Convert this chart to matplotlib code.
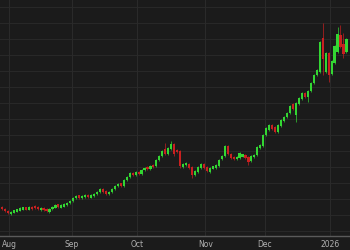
import numpy as np
import pandas as pd
import matplotlib
matplotlib.use("Agg")
import matplotlib.pyplot as plt

# daily candles, Jul 29 2025 - Jan 9 2026 (weekdays, minus Dec 25 / Jan 1)
dates = pd.bdate_range("2025-07-29", "2026-01-09")
dates = dates[~dates.isin(pd.to_datetime(["2025-12-25", "2026-01-01"]))]

opens = [38.0, 37.5, 37.0, 36.25, 36.75, 37.0, 37.25, 37.5, 37.75, 37.5,
         38.0, 38.25, 38.0, 37.25, 37.75, 37.5, 36.75, 37.5, 38.0, 38.5,
         38.0, 38.25, 38.5, 39.0, 39.5, 40.25, 40.75, 40.25, 40.62, 41.0,
         40.5, 40.75, 41.25, 41.75, 42.5, 42.0, 41.25, 41.75, 42.5, 43.25,
         43.75, 43.25, 44.75, 45.5, 46.5, 46.0, 46.75, 46.25, 47.25, 48.0,
         47.5, 48.5, 48.25, 49.75, 50.75, 52.5, 51.25, 52.5, 53.75, 52.25,
         52.0, 48.0, 48.5, 48.75, 48.0, 46.0, 46.75, 47.75, 48.75, 48.0,
         46.75, 47.75, 47.75, 48.25, 50.0, 50.75, 53.25, 51.25, 50.5, 50.0,
         50.25, 50.75, 51.0, 50.5, 49.5, 50.5, 51.0, 52.75, 53.25, 56.0,
         57.25, 58.5, 58.0, 56.75, 58.25, 59.5, 60.5, 61.5, 63.75, 61.0,
         63.75, 65.0, 66.5, 65.5, 67.0, 69.0, 71.0, 71.75, 80.25, 71.75,
         76.5, 71.25, 74.0, 76.75, 81.0, 78.75, 76.75]
closes = [37.5, 37.0, 36.5, 36.75, 37.0, 37.25, 37.62, 37.75, 37.5, 37.88,
          37.5, 37.75, 37.5, 37.75, 37.25, 37.0, 37.5, 38.0, 38.38, 38.12,
          38.38, 38.62, 39.0, 39.5, 40.25, 40.75, 40.38, 40.75, 40.88, 40.5,
          40.88, 41.25, 41.75, 42.5, 41.75, 41.25, 41.75, 42.5, 43.25, 43.75,
          43.38, 44.75, 45.5, 46.38, 46.0, 46.75, 46.25, 47.25, 47.75, 47.5,
          48.25, 48.0, 49.75, 50.75, 52.0, 51.25, 52.75, 53.75, 51.25, 51.75,
          48.25, 48.75, 49.0, 47.75, 46.0, 47.0, 48.0, 48.75, 47.75, 47.0,
          47.75, 48.0, 48.5, 49.75, 50.75, 53.25, 51.25, 50.25, 50.0, 50.5,
          51.5, 51.0, 50.25, 49.25, 50.75, 51.0, 53.0, 53.5, 56.0, 57.75,
          58.5, 57.5, 56.75, 58.5, 59.75, 60.5, 61.5, 63.25, 62.5, 64.0,
          65.25, 66.5, 65.5, 67.0, 69.0, 71.0, 72.25, 79.25, 75.0, 76.5,
          71.0, 74.5, 78.25, 81.25, 78.0, 76.25, 80.0]
highs = [38.35, 37.85, 37.35, 37.1, 37.35, 37.6, 37.97, 38.1, 38.1, 38.23,
         38.35, 38.6, 38.35, 38.1, 38.1, 37.85, 37.85, 38.35, 38.73, 38.85,
         38.73, 38.97, 39.35, 39.85, 40.6, 41.1, 41.1, 41.1, 41.23, 41.35,
         41.23, 41.6, 42.1, 42.85, 42.85, 42.35, 42.1, 42.85, 43.6, 44.1,
         44.1, 45.1, 45.85, 46.73, 46.85, 47.1, 47.1, 47.6, 48.1, 48.35,
         48.6, 48.85, 50.1, 51.1, 52.35, 54.0, 53.1, 54.5, 54.1, 52.6,
         52.35, 49.1, 49.35, 49.1, 48.35, 47.35, 48.35, 49.1, 49.1, 48.35,
         48.1, 48.35, 48.85, 50.1, 51.1, 53.6, 53.6, 51.6, 50.85, 50.85,
         51.85, 51.35, 51.35, 50.85, 51.1, 51.35, 53.35, 53.85, 56.35, 58.1,
         58.85, 58.85, 58.35, 58.85, 60.1, 60.85, 61.85, 63.6, 64.1, 64.35,
         65.6, 66.85, 66.85, 67.35, 69.35, 71.35, 72.6, 79.6, 84.0, 76.85,
         76.85, 74.85, 78.6, 83.0, 83.5, 81.5, 80.35]
lows = [37.15, 36.65, 36.15, 35.9, 36.4, 36.65, 36.9, 37.15, 37.15, 37.15,
        37.15, 37.4, 37.15, 36.9, 36.9, 36.65, 36.4, 37.15, 37.65, 37.77,
        37.65, 37.9, 38.15, 38.65, 39.15, 39.9, 40.03, 39.9, 40.27, 40.15,
        40.15, 40.4, 40.9, 41.4, 41.4, 40.9, 40.9, 41.4, 42.15, 42.9,
        43.03, 42.9, 44.4, 45.15, 45.65, 45.65, 45.9, 45.9, 46.9, 47.15,
        47.15, 47.65, 47.9, 49.4, 50.4, 50.9, 50.9, 52.15, 50.75, 51.4,
        47.75, 47.65, 48.15, 47.4, 45.25, 45.65, 46.4, 47.4, 47.4, 46.65,
        46.4, 47.4, 47.4, 47.9, 49.65, 50.4, 50.9, 49.9, 49.65, 49.65,
        49.9, 50.4, 49.9, 48.5, 49.15, 50.15, 50.65, 52.4, 52.9, 55.65,
        56.9, 57.15, 56.4, 56.4, 57.9, 59.15, 60.15, 61.15, 62.15, 59.25,
        63.4, 64.65, 65.15, 64.25, 66.65, 68.65, 70.65, 71.4, 71.0, 71.4,
        69.25, 70.9, 73.65, 76.4, 77.65, 75.25, 76.4]

grid_levels = np.arange(32, 92, 4)
month_idx = [int(np.argmax((dates.year == y) & (dates.month == m)))
             for y, m in [(2025, 8), (2025, 9), (2025, 10), (2025, 11), (2025, 12), (2026, 1)]]
month_labels = ["Aug", "Sep", "Oct", "Nov", "Dec", "2026"]

df = pd.DataFrame({"open": opens, "high": highs, "low": lows, "close": closes}, index=dates)
x = np.arange(len(df))

bg = "#1b1b1b"
up_col = "#33d633"
down_col = "#c92020"

fig = plt.figure(figsize=(3.5, 2.5), dpi=100, facecolor=bg)
ax = fig.add_axes([0, 14 / 250, 1, 236 / 250], facecolor=bg)

for lvl in grid_levels:
    ax.axhline(lvl, color="#282828", lw=0.8, zorder=0)
for mi in month_idx:
    ax.axvline(mi - 0.5, color="#2a2a2a", lw=0.8, zorder=0)

up = df["close"] >= df["open"]
colors = np.where(up, up_col, down_col)
# thin bodies still show as a short block, as on the reference
mid = (df["open"] + df["close"]) / 2
height = np.maximum((df["close"] - df["open"]).abs(), 0.7)
ax.vlines(x, df["low"], df["high"], colors=colors, lw=0.6, alpha=0.8, zorder=2)
ax.bar(x, height, bottom=mid - height / 2, width=0.72, color=colors, linewidth=0, zorder=3)

ax.set_xlim(-0.67, 117.2)
ax.set_ylim(30.75, 89.75)
ax.set_yticks([])
ax.set_xticks(np.array(month_idx) - 0.5)
ax.set_xticklabels(month_labels, fontsize=5.5, color="#b0b0b0")
ax.tick_params(axis="x", length=0, pad=3)
for s in ["top", "left", "right"]:
    ax.spines[s].set_visible(False)
ax.spines["bottom"].set_color("#5a5a5a")
ax.spines["bottom"].set_linewidth(1.0)

fig.savefig("out.png", dpi=100, facecolor=bg)
